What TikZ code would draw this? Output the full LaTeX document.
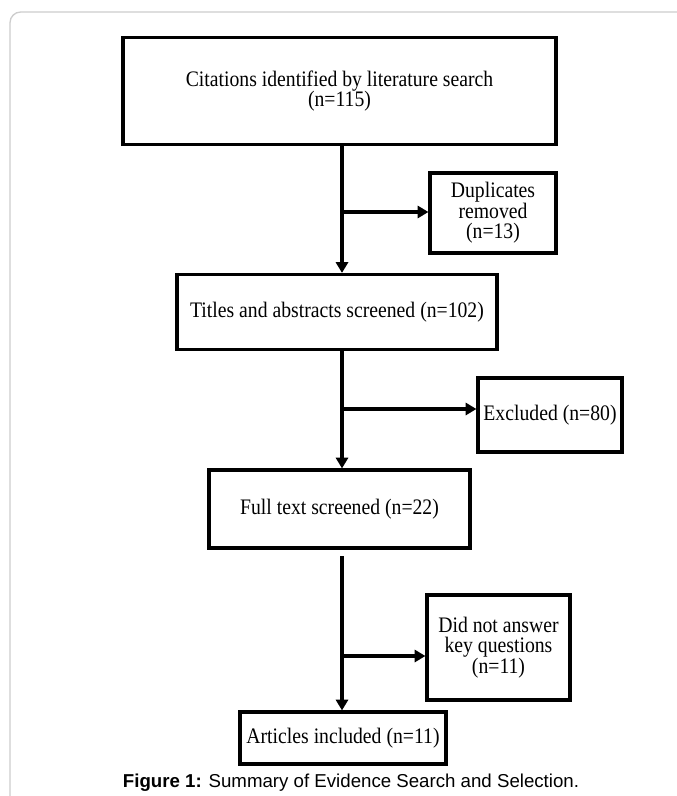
\documentclass[tikz,border=0pt]{standalone}
\usepackage{fontspec}
\setmainfont{Liberation Serif}[FakeStretch=0.89]
\newfontfamily\capfont{Liberation Sans}
\usetikzlibrary{arrows.meta}

\tikzset{every picture/.style={line width=0.75pt}}
\tikzset{
  flowbox/.style={draw, line width=2.4pt, inner sep=0pt, align=center,
    font=\fontsize{16.6}{15.5}\selectfont},
  flowline/.style={line width=2.4pt, -{Triangle[length=8pt,width=9pt]}},
}

\begin{document}
\begin{tikzpicture}[x=0.75pt,y=0.75pt,yscale=-1,xscale=1]
\useasboundingbox (0,0) rectangle (677,796);
\clip (0,0) rectangle (677,796);

%Shape: Rounded Rectangle (outer frame)
\draw [color={rgb, 255:red, 205; green, 205; blue, 205 }, line width=1pt, rounded corners=8pt] (10,12) rectangle (720,840);

% Boxes
\node [flowbox, minimum width=324.75pt, minimum height=80pt] (cit) at (339.5,91) {Citations identified by literature search\\(n=115)};
\node [flowbox, minimum width=94.5pt, minimum height=60pt] (dup) at (493,213) {Duplicates\\removed\\(n=13)};
\node [flowbox, minimum width=240pt, minimum height=56.25pt] (titles) at (337,312) {Titles and abstracts screened (n=102)};
\node [flowbox, minimum width=108pt, minimum height=55.5pt] (excl) at (550,415) {Excluded (n=80)};
\node [flowbox, minimum width=195.75pt, minimum height=58.5pt] (full) at (339.5,509) {Full text screened (n=22)};
\node [flowbox, minimum width=107.25pt, minimum height=78.75pt] (nokey) at (498.5,647.5) {Did not answer\\key questions\\(n=11)};
\node [flowbox, minimum width=154.5pt, minimum height=39pt] (incl) at (343,738) {Articles included (n=11)};

% Branch points on the trunk
\coordinate (b1) at (342,212);
\coordinate (b2) at (342,409);
\coordinate (b3) at (342,656);

%Straight Lines
\draw [flowline] (cit.south -| b1) -- (titles.north -| b1);
\draw [flowline] (b1) -- (b1 -| dup.west);
\draw [flowline] (titles.south -| b2) -- (full.north -| b2);
\draw [flowline] (b2) -- (b2 -| excl.west);
\draw [flowline, shorten <=5pt] (full.south -| b3) -- (incl.north -| b3);
\draw [flowline] (b3) -- (b3 -| nokey.west);

% Text Node
\node [font=\capfont\fontsize{14}{16}\selectfont] (cap) at (351,783) {\textbf{Figure 1:} Summary of Evidence Search and Selection.};

\end{tikzpicture}
\end{document}
